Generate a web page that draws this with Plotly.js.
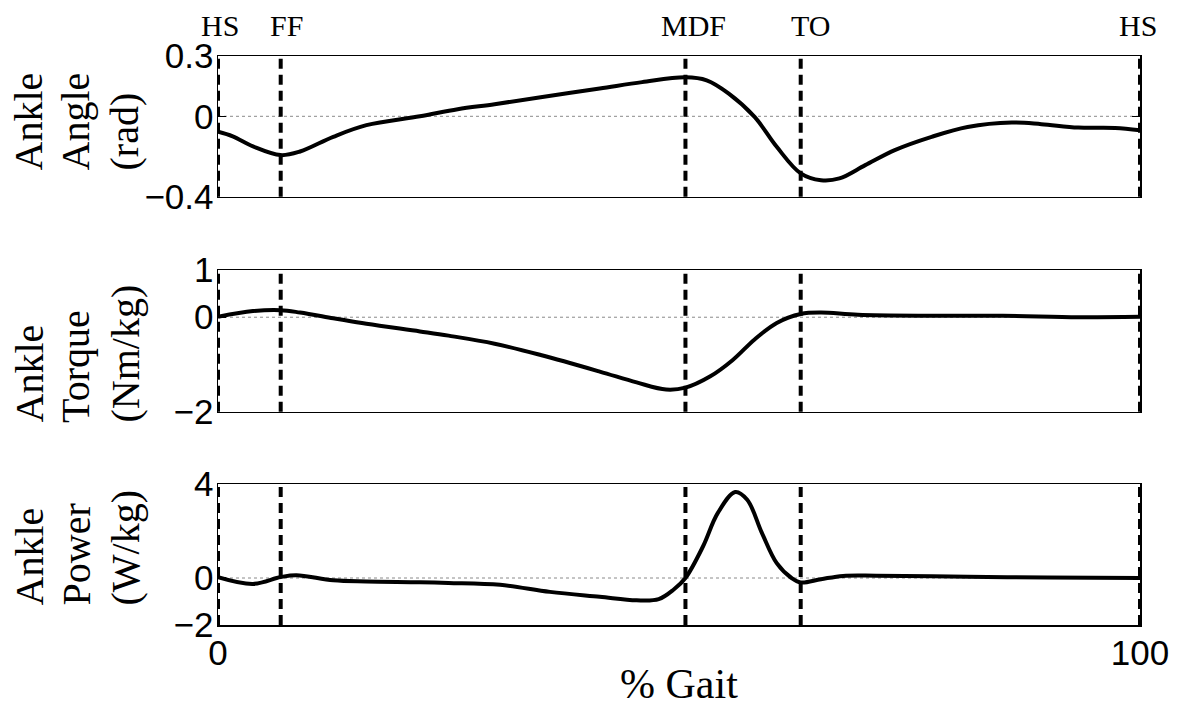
<!DOCTYPE html>
<html>
<head>
<meta charset="utf-8">
<script src="https://cdn.plot.ly/plotly-3.0.1.min.js"></script>
<style>html,body{margin:0;padding:0;background:#fff;}#chart{width:1178px;height:708px;}</style>
</head>
<body>
<div id="chart"></div>
<script>
// ---- data ----
const eventX = [0, 6.8, 50.7, 63.2, 100];
const eventLabels = ['HS', 'FF', 'MDF', 'TO', 'HS'];

const angleX = [0, 1.6, 3.8, 6.8, 8.9, 12.5, 16.1, 21.9, 26, 30, 35, 41.4, 46, 50.7, 53, 55.4, 58.2, 60.6, 63.2, 65.4, 67.4, 70.2, 73.4, 77.4, 81.3, 86.1, 89.3, 93.3, 97.3, 100];
const angleY = [-0.077, -0.100, -0.150, -0.193, -0.175, -0.102, -0.044, 0.0, 0.035, 0.060, 0.095, 0.138, 0.170, 0.194, 0.179, 0.113, -0.003, -0.152, -0.284, -0.318, -0.309, -0.243, -0.168, -0.102, -0.053, -0.031, -0.039, -0.056, -0.058, -0.069];

const torqueX = [0, 3.8, 6.8, 8.9, 12.5, 16.1, 21.9, 25, 30, 35, 41.4, 45.4, 48.6, 50.7, 53.4, 55.8, 58.2, 60.6, 63.2, 65.4, 69.4, 77.4, 85.1, 93.3, 100];
const torqueY = [0.01, 0.13, 0.15, 0.10, -0.02, -0.14, -0.30, -0.39, -0.56, -0.80, -1.15, -1.38, -1.53, -1.49, -1.25, -0.91, -0.47, -0.12, 0.07, 0.10, 0.05, 0.03, 0.03, 0.0, 0.01];

const powerX = [0, 3.8, 6.8, 8.5, 12.5, 16.1, 21.9, 25, 30.6, 36, 41.4, 45.4, 47.8, 49.4, 50.7, 52.6, 54.2, 56.1, 57.4, 59, 60.6, 62.2, 63.2, 65.4, 67.8, 71.4, 81.3, 90, 100];
const powerY = [0.04, -0.25, 0.04, 0.12, -0.10, -0.15, -0.18, -0.21, -0.29, -0.59, -0.80, -0.95, -0.90, -0.50, 0.0, 1.34, 2.76, 3.66, 3.33, 1.91, 0.63, 0.0, -0.19, -0.05, 0.09, 0.10, 0.05, 0.02, 0.0];

const xTicks = [0, 100];
const angleTicks = [-0.4, 0, 0.3];
const torqueTicks = [-2, 0, 1];
const powerTicks = [-2, 0, 4];

const titleLines = {
  angle: ['Ankle', 'Angle', '(rad)'],
  torque: ['Ankle', 'Torque', '(Nm/kg)'],
  power: ['Ankle', 'Power', '(W/kg)']
};
const xTitle = '% Gait';

// ---- layout helpers ----
const W = 1178, H = 708;
const M = {l: 218, r: 38, t: 56, b: 83};
const PW = W - M.l - M.r, PH = H - M.t - M.b;
const pxX = px => (px - M.l) / PW;
const pxY = py => (H - M.b - py) / PH;

const sans = 'Liberation Sans, Arial, sans-serif';
const serif = 'Liberation Serif';

const lineStyle = {color: 'black', width: 4, shape: 'spline', smoothing: 1};
const traces = [
  {x: powerX, y: powerY, xaxis: 'x', yaxis: 'y', mode: 'lines', line: lineStyle, hoverinfo: 'skip'},
  {x: torqueX, y: torqueY, xaxis: 'x2', yaxis: 'y2', mode: 'lines', line: lineStyle, hoverinfo: 'skip'},
  {x: angleX, y: angleY, xaxis: 'x3', yaxis: 'y3', mode: 'lines', line: lineStyle, hoverinfo: 'skip'}
];

function xa(anchor, showLabels) {
  return {
    anchor: anchor, range: [0, 100], tickmode: 'array', tickvals: xTicks,
    showticklabels: showLabels, ticks: 'inside', ticklen: 8, tickwidth: 1.5, tickcolor: 'black',
    showline: true, linecolor: 'black', linewidth: 1.5, mirror: 'ticks',
    showgrid: false, zeroline: false,
    tickfont: {family: sans, size: 35, color: 'black'}, ticklabelstandoff: -4
  };
}
function ya(anchor, domain, range, ticks) {
  return {
    anchor: anchor, domain: domain, range: range, tickmode: 'array', tickvals: ticks,
    ticks: 'inside', ticklen: 8, tickwidth: 1.5, tickcolor: 'black',
    showline: true, linecolor: 'black', linewidth: 1.5, mirror: 'ticks',
    showgrid: false, zeroline: false,
    tickfont: {family: sans, size: 35, color: 'black'}, ticklabelstandoff: -4
  };
}

const domains = {
  power: [0, pxY(484)],
  torque: [pxY(411.7), pxY(270)],
  angle: [pxY(196.7), 1]
};

const shapes = [];
const panels = [['x', 'y'], ['x2', 'y2'], ['x3', 'y3']];
panels.forEach(([xr, yr]) => {
  shapes.push({type: 'line', xref: xr + ' domain', yref: yr, x0: 0, x1: 1, y0: 0, y1: 0,
    line: {color: '#8a8a8a', width: 1, dash: 'dot'}, layer: 'below'});
  eventX.forEach(e => {
    shapes.push({type: 'line', xref: xr, yref: yr + ' domain', x0: e, x1: e, y0: 0, y1: 1,
      line: {color: 'black', width: 4, dash: '10px,6px'}});
  });
});

const annotations = [];
const labelShift = [1.5, 6, 8, 9.5, -2];
eventX.forEach((e, i) => {
  annotations.push({xref: 'x3', yref: 'paper', x: e, y: pxY(25.5), xshift: labelShift[i],
    xanchor: 'center', yanchor: 'middle', showarrow: false, text: eventLabels[i],
    font: {family: serif, size: 30, color: 'black'}});
});
const colCenters = [28.5, 75.5, 124.5];
const titleBottoms = {angle: 173, torque: 425, power: 608};
Object.keys(titleLines).forEach(k => {
  titleLines[k].forEach((t, i) => {
    annotations.push({xref: 'paper', yref: 'paper', x: pxX(colCenters[i]), y: pxY(titleBottoms[k]),
      xanchor: 'center', yanchor: 'bottom', textangle: -90, showarrow: false, text: t,
      font: {family: serif, size: 40, color: 'black'}});
  });
});
annotations.push({xref: 'paper', yref: 'paper', x: 0.5, y: pxY(684), xanchor: 'center', yanchor: 'middle',
  showarrow: false, text: xTitle, font: {family: serif, size: 42, color: 'black'}});

const layout = {
  width: W, height: H, margin: M, showlegend: false,
  paper_bgcolor: 'white', plot_bgcolor: 'white',
  xaxis: xa('y', true), xaxis2: xa('y2', false), xaxis3: xa('y3', false),
  yaxis: ya('x', domains.power, [-2, 4], powerTicks),
  yaxis2: ya('x2', domains.torque, [-2, 1], torqueTicks),
  yaxis3: ya('x3', domains.angle, [-0.4, 0.3], angleTicks),
  shapes: shapes, annotations: annotations
};

Plotly.newPlot('chart', traces, layout, {staticPlot: true, displayModeBar: false});
</script>
</body>
</html>
